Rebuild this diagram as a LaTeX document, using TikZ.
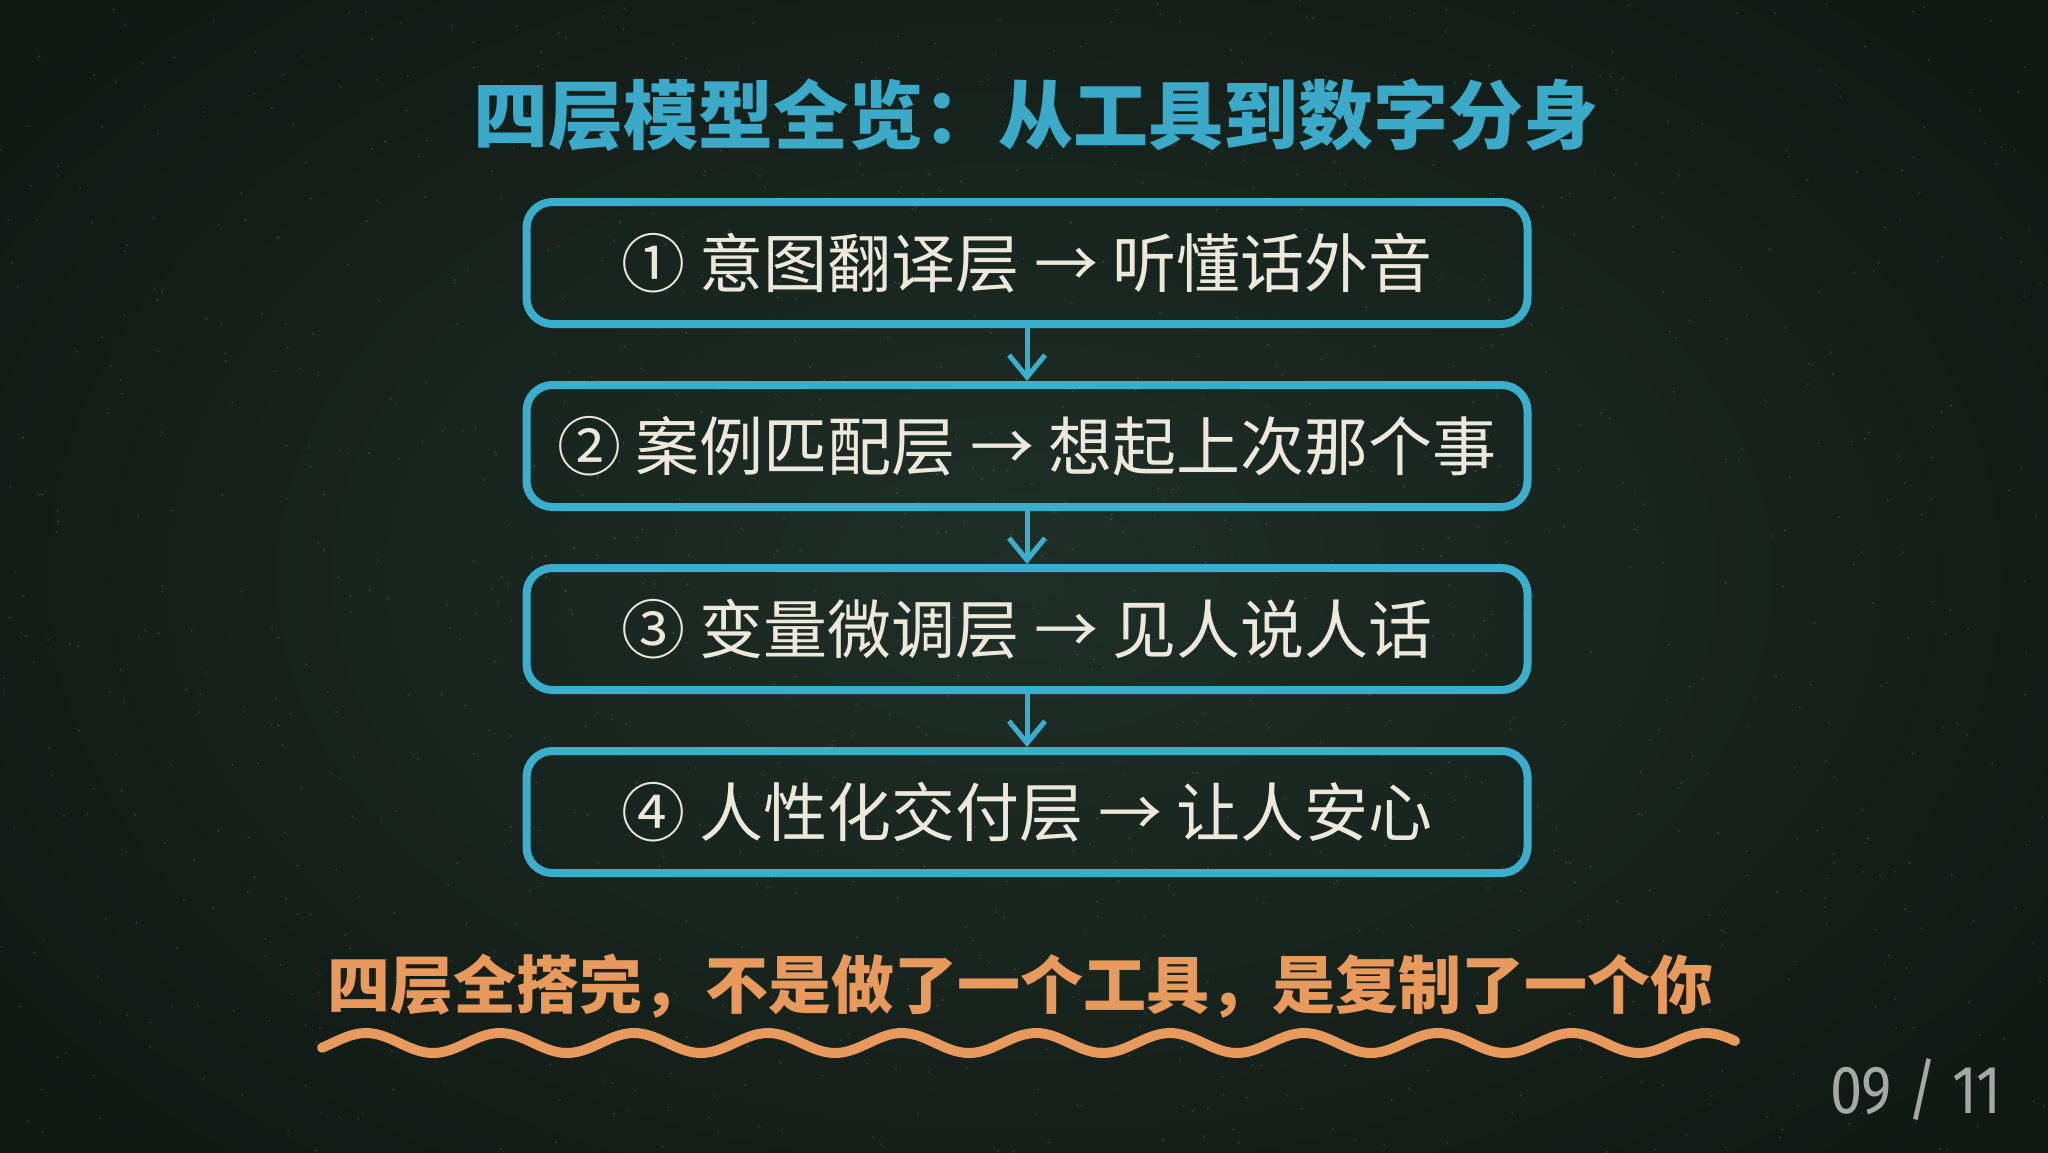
\documentclass[tikz,border=0pt]{standalone}
\usepackage{fontspec}
\newfontfamily\cjk{Noto Sans CJK SC}
\newfontfamily\numfont[FakeStretch=0.85]{Fira Sans}
\usetikzlibrary{arrows.meta}
\definecolor{bgc}{HTML}{1F2F27}
\definecolor{bgedge}{HTML}{101814}
\definecolor{cyanc}{HTML}{3AAFCD}
\definecolor{titlec}{HTML}{3AAAC8}
\definecolor{creamc}{HTML}{ECE8DC}
\definecolor{orangec}{HTML}{E89A5C}
\definecolor{greyc}{HTML}{A4A8A6}
\tikzset{
  layer/.style={draw=cyanc, line width=8pt, rounded corners=26pt,
    minimum width=1001pt, minimum height=122pt, inner sep=0pt,
    text=creamc, font=\cjk\fontsize{64}{70}\selectfont},
  flowarrow/.style={draw=cyanc, line width=5pt,
    -{Straight Barb[length=22pt, width=36pt, line width=5pt]}},
  titletext/.style={text=titlec, font=\cjk\bfseries\fontsize{75}{80}\selectfont, inner sep=0pt},
  bottomtext/.style={text=orangec, font=\cjk\bfseries\fontsize{63}{70}\selectfont, inner sep=0pt},
  pagetext/.style={text=greyc, font=\numfont\fontsize{68}{72}\selectfont, inner sep=0pt},
  speck/.style={fill=white, opacity=0.12}
}
\begin{document}
\begin{tikzpicture}[x=1pt,y=-1pt]
\useasboundingbox (0,0) rectangle (2048,1152);
\clip (0,0) rectangle (2048,1152);
\shade[inner color=bgc, outer color=bgedge] (-250,-250) rectangle (2298,1402);
\pgfmathsetseed{7}
\foreach \i in {1,...,1200} {
  \pgfmathsetmacro{\px}{2048*rnd}
  \pgfmathsetmacro{\py}{1152*rnd}
  \fill[speck] (\px,\py) circle (1.2pt);
}

\node[titletext] (title) at (1036,115) {四层模型全览：从工具到数字分身};

\node[layer] (b1) at (1027,263) {① 意图翻译层 → 听懂话外音};
\node[layer] (b2) at (1027,446) {② 案例匹配层 → 想起上次那个事};
\node[layer] (b3) at (1027,629) {③ 变量微调层 → 见人说人话};
\node[layer] (b4) at (1027,812) {④ 人性化交付层 → 让人安心};

\draw[flowarrow] (b1.south) -- (b2.north);
\draw[flowarrow] (b2.south) -- (b3.north);
\draw[flowarrow] (b3.south) -- (b4.north);

\node[bottomtext] (bottom) at (1020,986) {四层全搭完，不是做了一个工具，是复制了一个你};
\draw[orangec, line width=10pt, line cap=round]
  plot[domain=322:1735, samples=300] (\x, {1043 - 10*sin(2.6866*(\x-332.5))});

\node[pagetext] (page) at (1916,1090) {09 / 11};
\end{tikzpicture}
\end{document}
